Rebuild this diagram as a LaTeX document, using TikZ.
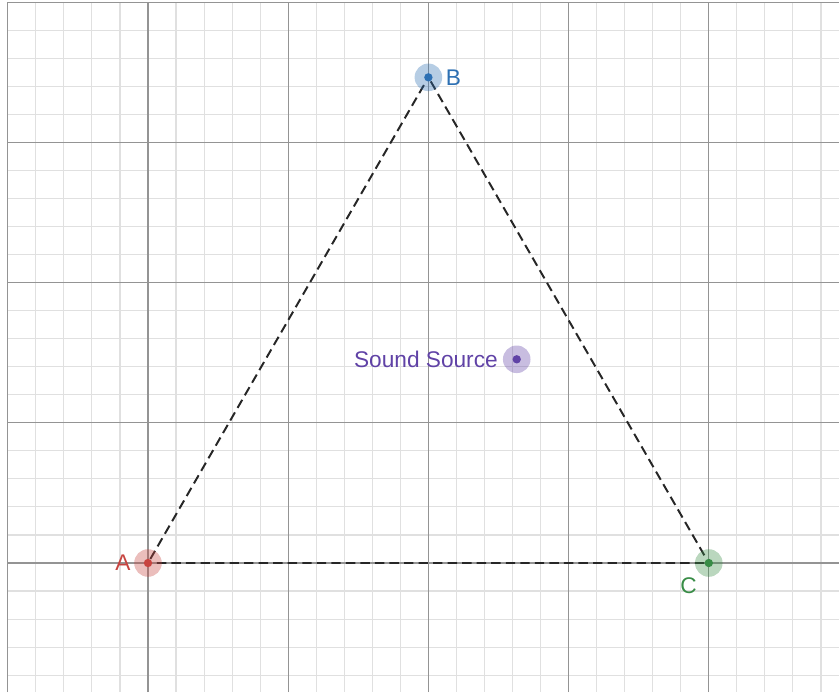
\documentclass[tikz,border=0pt]{standalone}
\usepackage{fontspec}
\setmainfont{Liberation Sans}
\usepackage{tikz}
\usetikzlibrary{positioning}
\definecolor{desred}{HTML}{C74440}
\definecolor{desblue}{HTML}{2D70B3}
\definecolor{desgreen}{HTML}{388C46}
\definecolor{despurple}{HTML}{6042A6}
\tikzset{
  minorgrid/.style={draw=black!12, line width=0.45pt},
  majorgrid/.style={draw=black!42, line width=0.5pt},
  pt/.style={circle, fill=#1, inner sep=0pt, minimum size=3.4pt},
  halo/.style={fill=#1, fill opacity=0.35},
  lbl/.style={inner sep=0pt, font=\fontsize{9.2pt}{11pt}\selectfont},
  side/.style={draw=black!85, line width=0.8pt, dash pattern=on 3.8pt off 2.1pt},
}

\begin{document}
\begin{tikzpicture}[x=2cm, y=2cm]
  \useasboundingbox (-1.0556,-0.9201) rectangle (4.9287,4.0157);
  % grid
  \foreach \i in {-5,...,24}
    \draw[minorgrid] (\i/5,-0.9201) -- (\i/5,4);
  \foreach \j in {-4,...,20}
    \draw[minorgrid] (-1,\j/5) -- (4.9287,\j/5);
  \foreach \i in {-1,...,4}
    \draw[majorgrid] (\i,-0.9201) -- (\i,4);
  \foreach \j in {0,...,4}
    \draw[majorgrid] (-1,\j) -- (4.9287,\j);

  % points
  \node[pt=desred] (A) at (0,0) {};
  \node[pt=desblue] (B) at (2,3.4641) {};
  \node[pt=desgreen] (C) at (4,0) {};
  \node[pt=despurple] (src) at (2.63,1.453) {};

  % triangle
  \draw[side] (A) -- (B) -- (C) -- (A);

  \fill[halo=desred] (A) circle (5.6pt);
  \fill[halo=desblue] (B) circle (5.6pt);
  \fill[halo=desgreen] (C) circle (5.6pt);
  \fill[halo=despurple] (src) circle (5.6pt);

  % labels
  \node[lbl, text=desred, left=5pt of A] {A};
  \node[lbl, text=desblue, right=5pt of B] {B};
  \node[lbl, text=desgreen, below left=4.5pt and 3.3pt of C] {C};
  \node[lbl, text=despurple, left=5.6pt of src] {Sound Source};
\end{tikzpicture}
\end{document}
